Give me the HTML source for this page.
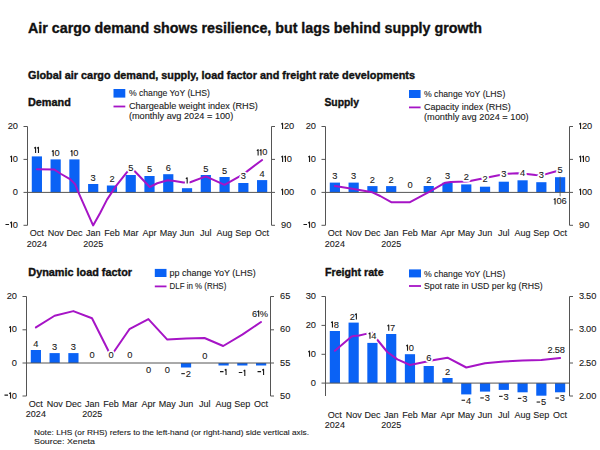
<!DOCTYPE html>
<html><head><meta charset="utf-8">
<style>
html,body{margin:0;padding:0;background:#fff;}
body{width:600px;height:450px;overflow:hidden;}
svg{display:block;font-family:"Liberation Sans", sans-serif;}
</style></head><body>
<svg width="600" height="450" viewBox="0 0 600 450">
<rect width="600" height="450" fill="#fff"/>
<text x="28.00" y="32.70" font-size="14.3" font-weight="bold" textLength="454" lengthAdjust="spacingAndGlyphs" stroke="#111" stroke-width="0.35" stroke-linejoin="round" fill="#111">Air cargo demand shows resilience, but lags behind supply growth</text>
<text x="28.00" y="79.20" font-size="10" font-weight="bold" textLength="387" lengthAdjust="spacingAndGlyphs" stroke="#111" stroke-width="0.35" stroke-linejoin="round" fill="#111">Global air cargo demand, supply, load factor and freight rate developments</text>
<text x="28.00" y="105.80" font-size="10" font-weight="bold" textLength="42.8" lengthAdjust="spacingAndGlyphs" stroke="#111" stroke-width="0.35" stroke-linejoin="round" fill="#111">Demand</text>
<rect x="113.50" y="89.00" width="11.80" height="8.60" fill="#0a62f5"/>
<text x="128.90" y="96.10" font-size="8.5" textLength="81.1" lengthAdjust="spacingAndGlyphs" stroke="#1a1a1a" stroke-width="0.1" stroke-linejoin="round" fill="#1a1a1a">% change YoY (LHS)</text>
<line x1="113.50" y1="106.50" x2="125.30" y2="106.50" stroke="#a614c6" stroke-width="1.8"/>
<text x="128.90" y="109.30" font-size="8.5" textLength="129" lengthAdjust="spacingAndGlyphs" stroke="#1a1a1a" stroke-width="0.1" stroke-linejoin="round" fill="#1a1a1a">Chargeable weight index (RHS)</text>
<text x="128.90" y="119.30" font-size="8.5" textLength="104.4" lengthAdjust="spacingAndGlyphs" stroke="#1a1a1a" stroke-width="0.1" stroke-linejoin="round" fill="#1a1a1a">(monthly avg 2024 = 100)</text>
<line x1="27.50" y1="126.50" x2="27.50" y2="225.30" stroke="#555555" stroke-width="1"/>
<line x1="271.50" y1="126.50" x2="271.50" y2="225.30" stroke="#555555" stroke-width="1"/>
<line x1="23.50" y1="126.50" x2="27.50" y2="126.50" stroke="#555555" stroke-width="1"/>
<text x="7.66 12.83" y="129.00" font-size="9.3" fill="#1a1a1a" stroke="#1a1a1a" stroke-width="0.1">20</text>
<line x1="23.50" y1="159.40" x2="27.50" y2="159.40" stroke="#555555" stroke-width="1"/>
<text x="12.83" y="161.90" font-size="9.3" fill="#1a1a1a" stroke="#1a1a1a" stroke-width="0.1">0</text>
<path d="M10.23,157.16 L11.53,156.13 L11.53,161.90" fill="none" stroke="#1a1a1a" stroke-width="1.10" stroke-linejoin="round"/>
<line x1="23.50" y1="192.40" x2="27.50" y2="192.40" stroke="#555555" stroke-width="1"/>
<text x="12.83" y="194.90" font-size="9.3" fill="#1a1a1a" stroke="#1a1a1a" stroke-width="0.1">0</text>
<line x1="23.50" y1="225.30" x2="27.50" y2="225.30" stroke="#555555" stroke-width="1"/>
<text x="12.83" y="227.80" font-size="9.3" fill="#1a1a1a" stroke="#1a1a1a" stroke-width="0.1">0</text>
<path d="M5.48,224.45 L9.02,224.45 M10.23,223.06 L11.53,222.03 L11.53,227.80" fill="none" stroke="#1a1a1a" stroke-width="1.10" stroke-linejoin="round"/>
<line x1="271.50" y1="126.50" x2="275.00" y2="126.50" stroke="#555555" stroke-width="1"/>
<text x="283.88 289.05" y="129.00" font-size="9.3" fill="#1a1a1a" stroke="#1a1a1a" stroke-width="0.1">20</text>
<path d="M281.28,124.26 L282.58,123.23 L282.58,129.00" fill="none" stroke="#1a1a1a" stroke-width="1.10" stroke-linejoin="round"/>
<line x1="271.50" y1="159.40" x2="275.00" y2="159.40" stroke="#555555" stroke-width="1"/>
<text x="286.77" y="161.90" font-size="9.3" fill="#1a1a1a" stroke="#1a1a1a" stroke-width="0.1">0</text>
<path d="M281.28,157.16 L282.58,156.13 L282.58,161.90 M284.16,157.16 L285.46,156.13 L285.46,161.90" fill="none" stroke="#1a1a1a" stroke-width="1.10" stroke-linejoin="round"/>
<line x1="271.50" y1="192.40" x2="275.00" y2="192.40" stroke="#555555" stroke-width="1"/>
<text x="283.88 289.05" y="194.90" font-size="9.3" fill="#1a1a1a" stroke="#1a1a1a" stroke-width="0.1">00</text>
<path d="M281.28,190.16 L282.58,189.13 L282.58,194.90" fill="none" stroke="#1a1a1a" stroke-width="1.10" stroke-linejoin="round"/>
<line x1="271.50" y1="225.30" x2="275.00" y2="225.30" stroke="#555555" stroke-width="1"/>
<text x="281.00 286.17" y="227.80" font-size="9.3" fill="#1a1a1a" stroke="#1a1a1a" stroke-width="0.1">90</text>
<rect x="31.78" y="156.40" width="10.20" height="36.00" fill="#0a62f5"/>
<rect x="50.55" y="159.40" width="10.20" height="33.00" fill="#0a62f5"/>
<rect x="69.32" y="159.40" width="10.20" height="33.00" fill="#0a62f5"/>
<rect x="88.09" y="184.00" width="10.20" height="8.40" fill="#0a62f5"/>
<rect x="106.86" y="185.50" width="10.20" height="6.90" fill="#0a62f5"/>
<rect x="125.63" y="175.00" width="10.20" height="17.40" fill="#0a62f5"/>
<rect x="144.40" y="176.00" width="10.20" height="16.40" fill="#0a62f5"/>
<rect x="163.17" y="174.20" width="10.20" height="18.20" fill="#0a62f5"/>
<rect x="181.94" y="188.20" width="10.20" height="4.20" fill="#0a62f5"/>
<rect x="200.71" y="175.00" width="10.20" height="17.40" fill="#0a62f5"/>
<rect x="219.48" y="177.00" width="10.20" height="15.40" fill="#0a62f5"/>
<rect x="238.25" y="183.00" width="10.20" height="9.40" fill="#0a62f5"/>
<rect x="257.02" y="180.10" width="10.20" height="12.30" fill="#0a62f5"/>
<line x1="27.50" y1="192.40" x2="271.50" y2="192.40" stroke="#555555" stroke-width="1"/>
<polyline points="36.90,169.30 54.00,169.40 61.10,174.00 70.40,179.40 75.10,184.10 78.20,191.90 93.10,225.40 100.00,213.30 107.00,199.60 116.30,185.60 126.40,172.80 130.70,168.00 134.75,171.25 149.75,187.00 157.25,183.25 167.75,180.25 174.50,181.00 183.50,182.50 190.25,182.20 205.80,176.40 224.50,184.80 239.10,176.60 243.35,174.00 246.70,171.60 262.10,160.00" fill="none" stroke="#a614c6" stroke-width="2.0" stroke-linejoin="round" stroke-linecap="round"/>
<path d="M34.28,148.26 L35.58,147.23 L35.58,153.00 M37.16,148.26 L38.47,147.23 L38.47,153.00" fill="none" stroke="#fff" stroke-width="4.60" stroke-linejoin="round" stroke-linecap="round"/>
<path d="M34.28,148.26 L35.58,147.23 L35.58,153.00 M37.16,148.26 L38.47,147.23 L38.47,153.00" fill="none" stroke="#1a1a1a" stroke-width="1.10" stroke-linejoin="round"/>
<text x="54.51" y="156.30" font-size="9.3" fill="#fff" stroke="#fff" stroke-width="3.5" stroke-linejoin="round">0</text>
<path d="M51.91,151.56 L53.21,150.53 L53.21,156.30" fill="none" stroke="#fff" stroke-width="4.60" stroke-linejoin="round" stroke-linecap="round"/>
<text x="54.51" y="156.30" font-size="9.3" fill="#1a1a1a" stroke="#1a1a1a" stroke-width="0.1">0</text>
<path d="M51.91,151.56 L53.21,150.53 L53.21,156.30" fill="none" stroke="#1a1a1a" stroke-width="1.10" stroke-linejoin="round"/>
<text x="73.28" y="156.30" font-size="9.3" fill="#fff" stroke="#fff" stroke-width="3.5" stroke-linejoin="round">0</text>
<path d="M70.68,151.56 L71.98,150.53 L71.98,156.30" fill="none" stroke="#fff" stroke-width="4.60" stroke-linejoin="round" stroke-linecap="round"/>
<text x="73.28" y="156.30" font-size="9.3" fill="#1a1a1a" stroke="#1a1a1a" stroke-width="0.1">0</text>
<path d="M70.68,151.56 L71.98,150.53 L71.98,156.30" fill="none" stroke="#1a1a1a" stroke-width="1.10" stroke-linejoin="round"/>
<text x="90.61" y="180.50" font-size="9.3" fill="#fff" stroke="#fff" stroke-width="3.5" stroke-linejoin="round">3</text>
<text x="90.61" y="180.50" font-size="9.3" fill="#1a1a1a" stroke="#1a1a1a" stroke-width="0.1">3</text>
<text x="109.38" y="182.00" font-size="9.3" fill="#fff" stroke="#fff" stroke-width="3.5" stroke-linejoin="round">2</text>
<text x="109.38" y="182.00" font-size="9.3" fill="#1a1a1a" stroke="#1a1a1a" stroke-width="0.1">2</text>
<text x="128.15" y="170.50" font-size="9.3" fill="#fff" stroke="#fff" stroke-width="3.5" stroke-linejoin="round">5</text>
<text x="128.15" y="170.50" font-size="9.3" fill="#1a1a1a" stroke="#1a1a1a" stroke-width="0.1">5</text>
<text x="146.91" y="172.20" font-size="9.3" fill="#fff" stroke="#fff" stroke-width="3.5" stroke-linejoin="round">5</text>
<text x="146.91" y="172.20" font-size="9.3" fill="#1a1a1a" stroke="#1a1a1a" stroke-width="0.1">5</text>
<text x="165.68" y="170.80" font-size="9.3" fill="#fff" stroke="#fff" stroke-width="3.5" stroke-linejoin="round">6</text>
<text x="165.68" y="170.80" font-size="9.3" fill="#1a1a1a" stroke="#1a1a1a" stroke-width="0.1">6</text>
<path d="M185.88,178.76 L187.18,177.73 L187.18,183.50" fill="none" stroke="#fff" stroke-width="4.60" stroke-linejoin="round" stroke-linecap="round"/>
<path d="M185.88,178.76 L187.18,177.73 L187.18,183.50" fill="none" stroke="#1a1a1a" stroke-width="1.10" stroke-linejoin="round"/>
<text x="203.22" y="171.70" font-size="9.3" fill="#fff" stroke="#fff" stroke-width="3.5" stroke-linejoin="round">5</text>
<text x="203.22" y="171.70" font-size="9.3" fill="#1a1a1a" stroke="#1a1a1a" stroke-width="0.1">5</text>
<text x="221.99" y="173.70" font-size="9.3" fill="#fff" stroke="#fff" stroke-width="3.5" stroke-linejoin="round">5</text>
<text x="221.99" y="173.70" font-size="9.3" fill="#1a1a1a" stroke="#1a1a1a" stroke-width="0.1">5</text>
<text x="240.76" y="179.00" font-size="9.3" fill="#fff" stroke="#fff" stroke-width="3.5" stroke-linejoin="round">3</text>
<text x="240.76" y="179.00" font-size="9.3" fill="#1a1a1a" stroke="#1a1a1a" stroke-width="0.1">3</text>
<text x="259.53" y="177.00" font-size="9.3" fill="#fff" stroke="#fff" stroke-width="3.5" stroke-linejoin="round">4</text>
<text x="259.53" y="177.00" font-size="9.3" fill="#1a1a1a" stroke="#1a1a1a" stroke-width="0.1">4</text>
<text x="262.30" y="155.40" font-size="9.3" fill="#fff" stroke="#fff" stroke-width="3.5" stroke-linejoin="round">0</text>
<path d="M256.81,150.66 L258.11,149.63 L258.11,155.40 M259.69,150.66 L261.00,149.63 L261.00,155.40" fill="none" stroke="#fff" stroke-width="4.60" stroke-linejoin="round" stroke-linecap="round"/>
<text x="262.30" y="155.40" font-size="9.3" fill="#1a1a1a" stroke="#1a1a1a" stroke-width="0.1">0</text>
<path d="M256.81,150.66 L258.11,149.63 L258.11,155.40 M259.69,150.66 L261.00,149.63 L261.00,155.40" fill="none" stroke="#1a1a1a" stroke-width="1.10" stroke-linejoin="round"/>
<text x="36.88" y="236.30" font-size="9" text-anchor="middle" stroke="#1a1a1a" stroke-width="0.1" stroke-linejoin="round" fill="#1a1a1a">Oct</text>
<text x="55.65" y="236.30" font-size="9" text-anchor="middle" stroke="#1a1a1a" stroke-width="0.1" stroke-linejoin="round" fill="#1a1a1a">Nov</text>
<text x="74.42" y="236.30" font-size="9" text-anchor="middle" stroke="#1a1a1a" stroke-width="0.1" stroke-linejoin="round" fill="#1a1a1a">Dec</text>
<text x="93.19" y="236.30" font-size="9" text-anchor="middle" stroke="#1a1a1a" stroke-width="0.1" stroke-linejoin="round" fill="#1a1a1a">Jan</text>
<text x="111.96" y="236.30" font-size="9" text-anchor="middle" stroke="#1a1a1a" stroke-width="0.1" stroke-linejoin="round" fill="#1a1a1a">Feb</text>
<text x="130.73" y="236.30" font-size="9" text-anchor="middle" stroke="#1a1a1a" stroke-width="0.1" stroke-linejoin="round" fill="#1a1a1a">Mar</text>
<text x="149.50" y="236.30" font-size="9" text-anchor="middle" stroke="#1a1a1a" stroke-width="0.1" stroke-linejoin="round" fill="#1a1a1a">Apr</text>
<text x="168.27" y="236.30" font-size="9" text-anchor="middle" stroke="#1a1a1a" stroke-width="0.1" stroke-linejoin="round" fill="#1a1a1a">May</text>
<text x="187.04" y="236.30" font-size="9" text-anchor="middle" stroke="#1a1a1a" stroke-width="0.1" stroke-linejoin="round" fill="#1a1a1a">Jun</text>
<text x="205.81" y="236.30" font-size="9" text-anchor="middle" stroke="#1a1a1a" stroke-width="0.1" stroke-linejoin="round" fill="#1a1a1a">Jul</text>
<text x="224.58" y="236.30" font-size="9" text-anchor="middle" stroke="#1a1a1a" stroke-width="0.1" stroke-linejoin="round" fill="#1a1a1a">Aug</text>
<text x="243.35" y="236.30" font-size="9" text-anchor="middle" stroke="#1a1a1a" stroke-width="0.1" stroke-linejoin="round" fill="#1a1a1a">Sep</text>
<text x="262.12" y="236.30" font-size="9" text-anchor="middle" stroke="#1a1a1a" stroke-width="0.1" stroke-linejoin="round" fill="#1a1a1a">Oct</text>
<text x="36.88" y="246.80" font-size="9" text-anchor="middle" stroke="#1a1a1a" stroke-width="0.1" stroke-linejoin="round" fill="#1a1a1a">2024</text>
<text x="93.19" y="246.80" font-size="9" text-anchor="middle" stroke="#1a1a1a" stroke-width="0.1" stroke-linejoin="round" fill="#1a1a1a">2025</text>
<text x="324.40" y="106.00" font-size="10" font-weight="bold" textLength="34.6" lengthAdjust="spacingAndGlyphs" stroke="#111" stroke-width="0.35" stroke-linejoin="round" fill="#111">Supply</text>
<rect x="409.00" y="90.00" width="11.60" height="8.00" fill="#0a62f5"/>
<text x="424.00" y="97.00" font-size="8.5" textLength="81.3" lengthAdjust="spacingAndGlyphs" stroke="#1a1a1a" stroke-width="0.1" stroke-linejoin="round" fill="#1a1a1a">% change YoY (LHS)</text>
<line x1="409.00" y1="107.40" x2="420.60" y2="107.40" stroke="#a614c6" stroke-width="1.8"/>
<text x="424.00" y="110.30" font-size="8.5" textLength="86.8" lengthAdjust="spacingAndGlyphs" stroke="#1a1a1a" stroke-width="0.1" stroke-linejoin="round" fill="#1a1a1a">Capacity index (RHS)</text>
<text x="424.00" y="120.30" font-size="8.5" textLength="104.7" lengthAdjust="spacingAndGlyphs" stroke="#1a1a1a" stroke-width="0.1" stroke-linejoin="round" fill="#1a1a1a">(monthly avg 2024 = 100)</text>
<line x1="325.50" y1="126.50" x2="325.50" y2="225.30" stroke="#555555" stroke-width="1"/>
<line x1="569.50" y1="126.50" x2="569.50" y2="225.30" stroke="#555555" stroke-width="1"/>
<line x1="321.50" y1="126.50" x2="325.50" y2="126.50" stroke="#555555" stroke-width="1"/>
<text x="305.66 310.83" y="129.00" font-size="9.3" fill="#1a1a1a" stroke="#1a1a1a" stroke-width="0.1">20</text>
<line x1="321.50" y1="159.40" x2="325.50" y2="159.40" stroke="#555555" stroke-width="1"/>
<text x="310.83" y="161.90" font-size="9.3" fill="#1a1a1a" stroke="#1a1a1a" stroke-width="0.1">0</text>
<path d="M308.23,157.16 L309.53,156.13 L309.53,161.90" fill="none" stroke="#1a1a1a" stroke-width="1.10" stroke-linejoin="round"/>
<line x1="321.50" y1="192.40" x2="325.50" y2="192.40" stroke="#555555" stroke-width="1"/>
<text x="310.83" y="194.90" font-size="9.3" fill="#1a1a1a" stroke="#1a1a1a" stroke-width="0.1">0</text>
<line x1="321.50" y1="225.30" x2="325.50" y2="225.30" stroke="#555555" stroke-width="1"/>
<text x="310.83" y="227.80" font-size="9.3" fill="#1a1a1a" stroke="#1a1a1a" stroke-width="0.1">0</text>
<path d="M303.48,224.45 L307.02,224.45 M308.23,223.06 L309.53,222.03 L309.53,227.80" fill="none" stroke="#1a1a1a" stroke-width="1.10" stroke-linejoin="round"/>
<line x1="569.50" y1="126.50" x2="573.00" y2="126.50" stroke="#555555" stroke-width="1"/>
<text x="581.88 587.05" y="129.00" font-size="9.3" fill="#1a1a1a" stroke="#1a1a1a" stroke-width="0.1">20</text>
<path d="M579.28,124.26 L580.58,123.23 L580.58,129.00" fill="none" stroke="#1a1a1a" stroke-width="1.10" stroke-linejoin="round"/>
<line x1="569.50" y1="159.40" x2="573.00" y2="159.40" stroke="#555555" stroke-width="1"/>
<text x="584.77" y="161.90" font-size="9.3" fill="#1a1a1a" stroke="#1a1a1a" stroke-width="0.1">0</text>
<path d="M579.28,157.16 L580.58,156.13 L580.58,161.90 M582.16,157.16 L583.46,156.13 L583.46,161.90" fill="none" stroke="#1a1a1a" stroke-width="1.10" stroke-linejoin="round"/>
<line x1="569.50" y1="192.40" x2="573.00" y2="192.40" stroke="#555555" stroke-width="1"/>
<text x="581.88 587.05" y="194.90" font-size="9.3" fill="#1a1a1a" stroke="#1a1a1a" stroke-width="0.1">00</text>
<path d="M579.28,190.16 L580.58,189.13 L580.58,194.90" fill="none" stroke="#1a1a1a" stroke-width="1.10" stroke-linejoin="round"/>
<line x1="569.50" y1="225.30" x2="573.00" y2="225.30" stroke="#555555" stroke-width="1"/>
<text x="579.00 584.17" y="227.80" font-size="9.3" fill="#1a1a1a" stroke="#1a1a1a" stroke-width="0.1">90</text>
<rect x="329.78" y="182.60" width="10.20" height="9.80" fill="#0a62f5"/>
<rect x="348.55" y="182.60" width="10.20" height="9.80" fill="#0a62f5"/>
<rect x="367.32" y="186.10" width="10.20" height="6.30" fill="#0a62f5"/>
<rect x="386.09" y="186.10" width="10.20" height="6.30" fill="#0a62f5"/>
<rect x="423.63" y="186.00" width="10.20" height="6.40" fill="#0a62f5"/>
<rect x="442.40" y="182.70" width="10.20" height="9.70" fill="#0a62f5"/>
<rect x="461.17" y="184.40" width="10.20" height="8.00" fill="#0a62f5"/>
<rect x="479.94" y="186.70" width="10.20" height="5.70" fill="#0a62f5"/>
<rect x="498.71" y="181.70" width="10.20" height="10.70" fill="#0a62f5"/>
<rect x="517.48" y="180.30" width="10.20" height="12.10" fill="#0a62f5"/>
<rect x="536.25" y="182.20" width="10.20" height="10.20" fill="#0a62f5"/>
<rect x="555.02" y="177.20" width="10.20" height="15.20" fill="#0a62f5"/>
<line x1="325.50" y1="192.40" x2="569.50" y2="192.40" stroke="#555555" stroke-width="1"/>
<polyline points="334.90,186.10 353.70,189.00 372.40,192.30 380.20,196.00 391.20,202.20 410.00,202.20 428.70,192.20 445.30,182.70 450.70,182.00 466.30,181.50 470.00,181.10 480.00,179.10 488.70,177.30 498.70,175.30 503.80,174.50 508.00,173.70 517.30,173.30 522.50,173.90 526.70,173.90 535.60,175.00 541.30,175.20 545.00,174.40 554.40,171.70 560.10,170.30" fill="none" stroke="#a614c6" stroke-width="2.0" stroke-linejoin="round" stroke-linecap="round"/>
<text x="332.30" y="179.00" font-size="9.3" fill="#fff" stroke="#fff" stroke-width="3.5" stroke-linejoin="round">3</text>
<text x="332.30" y="179.00" font-size="9.3" fill="#1a1a1a" stroke="#1a1a1a" stroke-width="0.1">3</text>
<text x="351.07" y="179.00" font-size="9.3" fill="#fff" stroke="#fff" stroke-width="3.5" stroke-linejoin="round">3</text>
<text x="351.07" y="179.00" font-size="9.3" fill="#1a1a1a" stroke="#1a1a1a" stroke-width="0.1">3</text>
<text x="369.84" y="182.75" font-size="9.3" fill="#fff" stroke="#fff" stroke-width="3.5" stroke-linejoin="round">2</text>
<text x="369.84" y="182.75" font-size="9.3" fill="#1a1a1a" stroke="#1a1a1a" stroke-width="0.1">2</text>
<text x="388.61" y="182.75" font-size="9.3" fill="#fff" stroke="#fff" stroke-width="3.5" stroke-linejoin="round">2</text>
<text x="388.61" y="182.75" font-size="9.3" fill="#1a1a1a" stroke="#1a1a1a" stroke-width="0.1">2</text>
<text x="407.38" y="188.00" font-size="9.3" fill="#fff" stroke="#fff" stroke-width="3.5" stroke-linejoin="round">0</text>
<text x="407.38" y="188.00" font-size="9.3" fill="#1a1a1a" stroke="#1a1a1a" stroke-width="0.1">0</text>
<text x="426.15" y="182.70" font-size="9.3" fill="#fff" stroke="#fff" stroke-width="3.5" stroke-linejoin="round">2</text>
<text x="426.15" y="182.70" font-size="9.3" fill="#1a1a1a" stroke="#1a1a1a" stroke-width="0.1">2</text>
<text x="444.91" y="178.70" font-size="9.3" fill="#fff" stroke="#fff" stroke-width="3.5" stroke-linejoin="round">3</text>
<text x="444.91" y="178.70" font-size="9.3" fill="#1a1a1a" stroke="#1a1a1a" stroke-width="0.1">3</text>
<text x="463.68" y="179.70" font-size="9.3" fill="#fff" stroke="#fff" stroke-width="3.5" stroke-linejoin="round">2</text>
<text x="463.68" y="179.70" font-size="9.3" fill="#1a1a1a" stroke="#1a1a1a" stroke-width="0.1">2</text>
<text x="482.45" y="182.00" font-size="9.3" fill="#fff" stroke="#fff" stroke-width="3.5" stroke-linejoin="round">2</text>
<text x="482.45" y="182.00" font-size="9.3" fill="#1a1a1a" stroke="#1a1a1a" stroke-width="0.1">2</text>
<text x="501.22" y="177.30" font-size="9.3" fill="#fff" stroke="#fff" stroke-width="3.5" stroke-linejoin="round">3</text>
<text x="501.22" y="177.30" font-size="9.3" fill="#1a1a1a" stroke="#1a1a1a" stroke-width="0.1">3</text>
<text x="519.99" y="175.80" font-size="9.3" fill="#fff" stroke="#fff" stroke-width="3.5" stroke-linejoin="round">4</text>
<text x="519.99" y="175.80" font-size="9.3" fill="#1a1a1a" stroke="#1a1a1a" stroke-width="0.1">4</text>
<text x="538.76" y="178.00" font-size="9.3" fill="#fff" stroke="#fff" stroke-width="3.5" stroke-linejoin="round">3</text>
<text x="538.76" y="178.00" font-size="9.3" fill="#1a1a1a" stroke="#1a1a1a" stroke-width="0.1">3</text>
<text x="557.53" y="172.80" font-size="9.3" fill="#fff" stroke="#fff" stroke-width="3.5" stroke-linejoin="round">5</text>
<text x="557.53" y="172.80" font-size="9.3" fill="#1a1a1a" stroke="#1a1a1a" stroke-width="0.1">5</text>
<text x="334.88" y="236.00" font-size="9" text-anchor="middle" stroke="#1a1a1a" stroke-width="0.1" stroke-linejoin="round" fill="#1a1a1a">Oct</text>
<text x="353.65" y="236.00" font-size="9" text-anchor="middle" stroke="#1a1a1a" stroke-width="0.1" stroke-linejoin="round" fill="#1a1a1a">Nov</text>
<text x="372.42" y="236.00" font-size="9" text-anchor="middle" stroke="#1a1a1a" stroke-width="0.1" stroke-linejoin="round" fill="#1a1a1a">Dec</text>
<text x="391.19" y="236.00" font-size="9" text-anchor="middle" stroke="#1a1a1a" stroke-width="0.1" stroke-linejoin="round" fill="#1a1a1a">Jan</text>
<text x="409.96" y="236.00" font-size="9" text-anchor="middle" stroke="#1a1a1a" stroke-width="0.1" stroke-linejoin="round" fill="#1a1a1a">Feb</text>
<text x="428.73" y="236.00" font-size="9" text-anchor="middle" stroke="#1a1a1a" stroke-width="0.1" stroke-linejoin="round" fill="#1a1a1a">Mar</text>
<text x="447.50" y="236.00" font-size="9" text-anchor="middle" stroke="#1a1a1a" stroke-width="0.1" stroke-linejoin="round" fill="#1a1a1a">Apr</text>
<text x="466.27" y="236.00" font-size="9" text-anchor="middle" stroke="#1a1a1a" stroke-width="0.1" stroke-linejoin="round" fill="#1a1a1a">May</text>
<text x="485.04" y="236.00" font-size="9" text-anchor="middle" stroke="#1a1a1a" stroke-width="0.1" stroke-linejoin="round" fill="#1a1a1a">Jun</text>
<text x="503.81" y="236.00" font-size="9" text-anchor="middle" stroke="#1a1a1a" stroke-width="0.1" stroke-linejoin="round" fill="#1a1a1a">Jul</text>
<text x="522.58" y="236.00" font-size="9" text-anchor="middle" stroke="#1a1a1a" stroke-width="0.1" stroke-linejoin="round" fill="#1a1a1a">Aug</text>
<text x="541.35" y="236.00" font-size="9" text-anchor="middle" stroke="#1a1a1a" stroke-width="0.1" stroke-linejoin="round" fill="#1a1a1a">Sep</text>
<text x="560.12" y="236.00" font-size="9" text-anchor="middle" stroke="#1a1a1a" stroke-width="0.1" stroke-linejoin="round" fill="#1a1a1a">Oct</text>
<text x="334.88" y="246.50" font-size="9" text-anchor="middle" stroke="#1a1a1a" stroke-width="0.1" stroke-linejoin="round" fill="#1a1a1a">2024</text>
<text x="391.19" y="246.50" font-size="9" text-anchor="middle" stroke="#1a1a1a" stroke-width="0.1" stroke-linejoin="round" fill="#1a1a1a">2025</text>
<line x1="560.12" y1="176.70" x2="560.12" y2="196.70" stroke="#555" stroke-width="0.8"/>
<text x="556.39 561.56" y="204.40" font-size="9.3" fill="#fff" stroke="#fff" stroke-width="3.5" stroke-linejoin="round">06</text>
<path d="M553.78,199.66 L555.08,198.63 L555.08,204.40" fill="none" stroke="#fff" stroke-width="4.60" stroke-linejoin="round" stroke-linecap="round"/>
<text x="556.39 561.56" y="204.40" font-size="9.3" fill="#1a1a1a" stroke="#1a1a1a" stroke-width="0.1">06</text>
<path d="M553.78,199.66 L555.08,198.63 L555.08,204.40" fill="none" stroke="#1a1a1a" stroke-width="1.10" stroke-linejoin="round"/>
<text x="28.30" y="276.30" font-size="10" font-weight="bold" textLength="103.7" lengthAdjust="spacingAndGlyphs" stroke="#111" stroke-width="0.35" stroke-linejoin="round" fill="#111">Dynamic load factor</text>
<rect x="154.80" y="268.90" width="11.70" height="8.10" fill="#0a62f5"/>
<text x="169.50" y="275.80" font-size="8.5" textLength="86.3" lengthAdjust="spacingAndGlyphs" stroke="#1a1a1a" stroke-width="0.1" stroke-linejoin="round" fill="#1a1a1a">pp change YoY (LHS)</text>
<line x1="154.80" y1="286.40" x2="166.50" y2="286.40" stroke="#a614c6" stroke-width="1.8"/>
<text x="169.50" y="289.20" font-size="8.5" textLength="56.8" lengthAdjust="spacingAndGlyphs" stroke="#1a1a1a" stroke-width="0.1" stroke-linejoin="round" fill="#1a1a1a">DLF in % (RHS)</text>
<line x1="26.50" y1="296.50" x2="26.50" y2="396.00" stroke="#555555" stroke-width="1"/>
<line x1="270.50" y1="296.50" x2="270.50" y2="396.00" stroke="#555555" stroke-width="1"/>
<line x1="22.50" y1="296.50" x2="26.50" y2="296.50" stroke="#555555" stroke-width="1"/>
<text x="6.66 11.83" y="299.00" font-size="9.3" fill="#1a1a1a" stroke="#1a1a1a" stroke-width="0.1">20</text>
<line x1="22.50" y1="329.80" x2="26.50" y2="329.80" stroke="#555555" stroke-width="1"/>
<text x="11.83" y="332.30" font-size="9.3" fill="#1a1a1a" stroke="#1a1a1a" stroke-width="0.1">0</text>
<path d="M9.23,327.56 L10.53,326.53 L10.53,332.30" fill="none" stroke="#1a1a1a" stroke-width="1.10" stroke-linejoin="round"/>
<line x1="22.50" y1="363.00" x2="26.50" y2="363.00" stroke="#555555" stroke-width="1"/>
<text x="11.83" y="365.50" font-size="9.3" fill="#1a1a1a" stroke="#1a1a1a" stroke-width="0.1">0</text>
<line x1="22.50" y1="396.00" x2="26.50" y2="396.00" stroke="#555555" stroke-width="1"/>
<text x="11.83" y="398.50" font-size="9.3" fill="#1a1a1a" stroke="#1a1a1a" stroke-width="0.1">0</text>
<path d="M4.48,395.15 L8.02,395.15 M9.23,393.76 L10.53,392.73 L10.53,398.50" fill="none" stroke="#1a1a1a" stroke-width="1.10" stroke-linejoin="round"/>
<line x1="270.50" y1="296.50" x2="274.00" y2="296.50" stroke="#555555" stroke-width="1"/>
<text x="280.00 285.17" y="299.00" font-size="9.3" fill="#1a1a1a" stroke="#1a1a1a" stroke-width="0.1">65</text>
<line x1="270.50" y1="329.80" x2="274.00" y2="329.80" stroke="#555555" stroke-width="1"/>
<text x="280.00 285.17" y="332.30" font-size="9.3" fill="#1a1a1a" stroke="#1a1a1a" stroke-width="0.1">60</text>
<line x1="270.50" y1="363.00" x2="274.00" y2="363.00" stroke="#555555" stroke-width="1"/>
<text x="280.00 285.17" y="365.50" font-size="9.3" fill="#1a1a1a" stroke="#1a1a1a" stroke-width="0.1">55</text>
<line x1="270.50" y1="396.00" x2="274.00" y2="396.00" stroke="#555555" stroke-width="1"/>
<text x="280.00 285.17" y="398.50" font-size="9.3" fill="#1a1a1a" stroke="#1a1a1a" stroke-width="0.1">50</text>
<rect x="30.78" y="350.00" width="10.20" height="13.00" fill="#0a62f5"/>
<rect x="49.55" y="353.10" width="10.20" height="9.90" fill="#0a62f5"/>
<rect x="68.32" y="353.10" width="10.20" height="9.90" fill="#0a62f5"/>
<rect x="180.94" y="363.00" width="10.20" height="4.50" fill="#0a62f5"/>
<rect x="218.48" y="363.00" width="10.20" height="2.50" fill="#0a62f5"/>
<rect x="237.25" y="363.00" width="10.20" height="2.50" fill="#0a62f5"/>
<rect x="256.02" y="363.00" width="10.20" height="2.50" fill="#0a62f5"/>
<line x1="26.50" y1="363.00" x2="270.50" y2="363.00" stroke="#555555" stroke-width="1"/>
<polyline points="35.90,327.40 54.60,315.75 73.30,311.10 92.00,318.30 111.00,356.00 129.40,329.20 148.40,319.10 167.30,339.60 186.00,338.50 204.50,338.00 223.20,346.00 242.30,334.70 261.00,322.00" fill="none" stroke="#a614c6" stroke-width="2.0" stroke-linejoin="round" stroke-linecap="round"/>
<text x="33.30" y="346.70" font-size="9.3" fill="#fff" stroke="#fff" stroke-width="3.5" stroke-linejoin="round">4</text>
<text x="33.30" y="346.70" font-size="9.3" fill="#1a1a1a" stroke="#1a1a1a" stroke-width="0.1">4</text>
<text x="52.07" y="349.80" font-size="9.3" fill="#fff" stroke="#fff" stroke-width="3.5" stroke-linejoin="round">3</text>
<text x="52.07" y="349.80" font-size="9.3" fill="#1a1a1a" stroke="#1a1a1a" stroke-width="0.1">3</text>
<text x="70.84" y="349.80" font-size="9.3" fill="#fff" stroke="#fff" stroke-width="3.5" stroke-linejoin="round">3</text>
<text x="70.84" y="349.80" font-size="9.3" fill="#1a1a1a" stroke="#1a1a1a" stroke-width="0.1">3</text>
<text x="89.61" y="358.40" font-size="9.3" fill="#fff" stroke="#fff" stroke-width="3.5" stroke-linejoin="round">0</text>
<text x="89.61" y="358.40" font-size="9.3" fill="#1a1a1a" stroke="#1a1a1a" stroke-width="0.1">0</text>
<text x="108.38" y="358.40" font-size="9.3" fill="#fff" stroke="#fff" stroke-width="3.5" stroke-linejoin="round">0</text>
<text x="108.38" y="358.40" font-size="9.3" fill="#1a1a1a" stroke="#1a1a1a" stroke-width="0.1">0</text>
<text x="127.15" y="358.40" font-size="9.3" fill="#fff" stroke="#fff" stroke-width="3.5" stroke-linejoin="round">0</text>
<text x="127.15" y="358.40" font-size="9.3" fill="#1a1a1a" stroke="#1a1a1a" stroke-width="0.1">0</text>
<text x="145.91" y="373.00" font-size="9.3" fill="#fff" stroke="#fff" stroke-width="3.5" stroke-linejoin="round">0</text>
<text x="145.91" y="373.00" font-size="9.3" fill="#1a1a1a" stroke="#1a1a1a" stroke-width="0.1">0</text>
<text x="164.68" y="373.00" font-size="9.3" fill="#fff" stroke="#fff" stroke-width="3.5" stroke-linejoin="round">0</text>
<text x="164.68" y="373.00" font-size="9.3" fill="#1a1a1a" stroke="#1a1a1a" stroke-width="0.1">0</text>
<text x="185.78" y="377.00" font-size="9.3" fill="#fff" stroke="#fff" stroke-width="3.5" stroke-linejoin="round">2</text>
<path d="M181.31,373.65 L184.85,373.65" fill="none" stroke="#fff" stroke-width="4.60" stroke-linejoin="round" stroke-linecap="round"/>
<text x="185.78" y="377.00" font-size="9.3" fill="#1a1a1a" stroke="#1a1a1a" stroke-width="0.1">2</text>
<path d="M181.31,373.65 L184.85,373.65" fill="none" stroke="#1a1a1a" stroke-width="1.10" stroke-linejoin="round"/>
<text x="202.22" y="359.00" font-size="9.3" fill="#fff" stroke="#fff" stroke-width="3.5" stroke-linejoin="round">0</text>
<text x="202.22" y="359.00" font-size="9.3" fill="#1a1a1a" stroke="#1a1a1a" stroke-width="0.1">0</text>
<path d="M220.00,371.65 L223.53,371.65 M224.74,370.26 L226.04,369.23 L226.04,375.00" fill="none" stroke="#fff" stroke-width="4.60" stroke-linejoin="round" stroke-linecap="round"/>
<path d="M220.00,371.65 L223.53,371.65 M224.74,370.26 L226.04,369.23 L226.04,375.00" fill="none" stroke="#1a1a1a" stroke-width="1.10" stroke-linejoin="round"/>
<path d="M238.77,372.55 L242.30,372.55 M243.51,371.16 L244.81,370.13 L244.81,375.90" fill="none" stroke="#fff" stroke-width="4.60" stroke-linejoin="round" stroke-linecap="round"/>
<path d="M238.77,372.55 L242.30,372.55 M243.51,371.16 L244.81,370.13 L244.81,375.90" fill="none" stroke="#1a1a1a" stroke-width="1.10" stroke-linejoin="round"/>
<path d="M257.53,371.65 L261.07,371.65 M262.28,370.26 L263.58,369.23 L263.58,375.00" fill="none" stroke="#fff" stroke-width="4.60" stroke-linejoin="round" stroke-linecap="round"/>
<path d="M257.53,371.65 L261.07,371.65 M262.28,370.26 L263.58,369.23 L263.58,375.00" fill="none" stroke="#1a1a1a" stroke-width="1.10" stroke-linejoin="round"/>
<text x="251.95 259.63" y="316.70" font-size="9.3" fill="#fff" stroke="#fff" stroke-width="3.5" stroke-linejoin="round">6%</text>
<path d="M257.40,311.96 L258.70,310.93 L258.70,316.70" fill="none" stroke="#fff" stroke-width="4.60" stroke-linejoin="round" stroke-linecap="round"/>
<text x="251.95 259.63" y="316.70" font-size="9.3" fill="#1a1a1a" stroke="#1a1a1a" stroke-width="0.1">6%</text>
<path d="M257.40,311.96 L258.70,310.93 L258.70,316.70" fill="none" stroke="#1a1a1a" stroke-width="1.10" stroke-linejoin="round"/>
<text x="35.88" y="406.50" font-size="9" text-anchor="middle" stroke="#1a1a1a" stroke-width="0.1" stroke-linejoin="round" fill="#1a1a1a">Oct</text>
<text x="54.65" y="406.50" font-size="9" text-anchor="middle" stroke="#1a1a1a" stroke-width="0.1" stroke-linejoin="round" fill="#1a1a1a">Nov</text>
<text x="73.42" y="406.50" font-size="9" text-anchor="middle" stroke="#1a1a1a" stroke-width="0.1" stroke-linejoin="round" fill="#1a1a1a">Dec</text>
<text x="92.19" y="406.50" font-size="9" text-anchor="middle" stroke="#1a1a1a" stroke-width="0.1" stroke-linejoin="round" fill="#1a1a1a">Jan</text>
<text x="110.96" y="406.50" font-size="9" text-anchor="middle" stroke="#1a1a1a" stroke-width="0.1" stroke-linejoin="round" fill="#1a1a1a">Feb</text>
<text x="129.73" y="406.50" font-size="9" text-anchor="middle" stroke="#1a1a1a" stroke-width="0.1" stroke-linejoin="round" fill="#1a1a1a">Mar</text>
<text x="148.50" y="406.50" font-size="9" text-anchor="middle" stroke="#1a1a1a" stroke-width="0.1" stroke-linejoin="round" fill="#1a1a1a">Apr</text>
<text x="167.27" y="406.50" font-size="9" text-anchor="middle" stroke="#1a1a1a" stroke-width="0.1" stroke-linejoin="round" fill="#1a1a1a">May</text>
<text x="186.04" y="406.50" font-size="9" text-anchor="middle" stroke="#1a1a1a" stroke-width="0.1" stroke-linejoin="round" fill="#1a1a1a">Jun</text>
<text x="204.81" y="406.50" font-size="9" text-anchor="middle" stroke="#1a1a1a" stroke-width="0.1" stroke-linejoin="round" fill="#1a1a1a">Jul</text>
<text x="223.58" y="406.50" font-size="9" text-anchor="middle" stroke="#1a1a1a" stroke-width="0.1" stroke-linejoin="round" fill="#1a1a1a">Aug</text>
<text x="242.35" y="406.50" font-size="9" text-anchor="middle" stroke="#1a1a1a" stroke-width="0.1" stroke-linejoin="round" fill="#1a1a1a">Sep</text>
<text x="261.12" y="406.50" font-size="9" text-anchor="middle" stroke="#1a1a1a" stroke-width="0.1" stroke-linejoin="round" fill="#1a1a1a">Oct</text>
<text x="35.88" y="417.00" font-size="9" text-anchor="middle" stroke="#1a1a1a" stroke-width="0.1" stroke-linejoin="round" fill="#1a1a1a">2024</text>
<text x="92.19" y="417.00" font-size="9" text-anchor="middle" stroke="#1a1a1a" stroke-width="0.1" stroke-linejoin="round" fill="#1a1a1a">2025</text>
<text x="325.00" y="276.40" font-size="10" font-weight="bold" textLength="58.6" lengthAdjust="spacingAndGlyphs" stroke="#111" stroke-width="0.35" stroke-linejoin="round" fill="#111">Freight rate</text>
<rect x="409.00" y="269.40" width="12.00" height="8.00" fill="#0a62f5"/>
<text x="424.00" y="276.70" font-size="8.5" textLength="81.3" lengthAdjust="spacingAndGlyphs" stroke="#1a1a1a" stroke-width="0.1" stroke-linejoin="round" fill="#1a1a1a">% change YoY (LHS)</text>
<line x1="409.00" y1="286.00" x2="421.00" y2="286.00" stroke="#a614c6" stroke-width="1.8"/>
<text x="424.00" y="289.00" font-size="8.5" textLength="118.7" lengthAdjust="spacingAndGlyphs" stroke="#1a1a1a" stroke-width="0.1" stroke-linejoin="round" fill="#1a1a1a">Spot rate in USD per kg (RHS)</text>
<line x1="325.50" y1="296.50" x2="325.50" y2="396.00" stroke="#555555" stroke-width="1"/>
<line x1="569.50" y1="296.50" x2="569.50" y2="396.00" stroke="#555555" stroke-width="1"/>
<line x1="321.50" y1="296.50" x2="325.50" y2="296.50" stroke="#555555" stroke-width="1"/>
<text x="305.66 310.83" y="299.00" font-size="9.3" fill="#1a1a1a" stroke="#1a1a1a" stroke-width="0.1">30</text>
<line x1="321.50" y1="325.40" x2="325.50" y2="325.40" stroke="#555555" stroke-width="1"/>
<text x="305.66 310.83" y="327.90" font-size="9.3" fill="#1a1a1a" stroke="#1a1a1a" stroke-width="0.1">20</text>
<line x1="321.50" y1="354.30" x2="325.50" y2="354.30" stroke="#555555" stroke-width="1"/>
<text x="310.83" y="356.80" font-size="9.3" fill="#1a1a1a" stroke="#1a1a1a" stroke-width="0.1">0</text>
<path d="M308.23,352.06 L309.53,351.03 L309.53,356.80" fill="none" stroke="#1a1a1a" stroke-width="1.10" stroke-linejoin="round"/>
<line x1="321.50" y1="383.10" x2="325.50" y2="383.10" stroke="#555555" stroke-width="1"/>
<text x="310.83" y="385.60" font-size="9.3" fill="#1a1a1a" stroke="#1a1a1a" stroke-width="0.1">0</text>
<line x1="569.50" y1="296.50" x2="573.00" y2="296.50" stroke="#555555" stroke-width="1"/>
<text x="579.00 583.80 586.03 591.20" y="299.00" font-size="9.3" fill="#1a1a1a" stroke="#1a1a1a" stroke-width="0.1">3.50</text>
<line x1="569.50" y1="329.80" x2="573.00" y2="329.80" stroke="#555555" stroke-width="1"/>
<text x="579.00 583.80 586.03 591.20" y="332.30" font-size="9.3" fill="#1a1a1a" stroke="#1a1a1a" stroke-width="0.1">3.00</text>
<line x1="569.50" y1="363.00" x2="573.00" y2="363.00" stroke="#555555" stroke-width="1"/>
<text x="579.00 583.80 586.03 591.20" y="365.50" font-size="9.3" fill="#1a1a1a" stroke="#1a1a1a" stroke-width="0.1">2.50</text>
<line x1="569.50" y1="396.00" x2="573.00" y2="396.00" stroke="#555555" stroke-width="1"/>
<text x="579.00 583.80 586.03 591.20" y="398.50" font-size="9.3" fill="#1a1a1a" stroke="#1a1a1a" stroke-width="0.1">2.00</text>
<rect x="329.78" y="331.00" width="10.20" height="52.10" fill="#0a62f5"/>
<rect x="348.55" y="322.60" width="10.20" height="60.50" fill="#0a62f5"/>
<rect x="367.32" y="342.90" width="10.20" height="40.20" fill="#0a62f5"/>
<rect x="386.09" y="334.00" width="10.20" height="49.10" fill="#0a62f5"/>
<rect x="404.86" y="354.20" width="10.20" height="28.90" fill="#0a62f5"/>
<rect x="423.63" y="366.00" width="10.20" height="17.10" fill="#0a62f5"/>
<rect x="442.40" y="378.00" width="10.20" height="5.10" fill="#0a62f5"/>
<rect x="461.17" y="383.10" width="10.20" height="11.30" fill="#0a62f5"/>
<rect x="479.94" y="383.10" width="10.20" height="8.50" fill="#0a62f5"/>
<rect x="498.71" y="383.10" width="10.20" height="6.80" fill="#0a62f5"/>
<rect x="517.48" y="383.10" width="10.20" height="9.20" fill="#0a62f5"/>
<rect x="536.25" y="383.10" width="10.20" height="12.60" fill="#0a62f5"/>
<rect x="555.02" y="383.10" width="10.20" height="9.20" fill="#0a62f5"/>
<line x1="325.50" y1="383.10" x2="569.50" y2="383.10" stroke="#555555" stroke-width="1"/>
<polyline points="334.90,350.80 351.30,336.70 353.70,335.90 359.10,335.50 366.10,333.90 372.40,332.80 377.50,340.00 387.30,352.00 397.40,359.40 410.00,365.00 423.30,362.30 432.70,360.30 447.50,357.70 466.30,367.50 485.00,363.20 503.80,361.50 522.50,360.60 541.30,359.90 560.10,358.00" fill="none" stroke="#a614c6" stroke-width="2.0" stroke-linejoin="round" stroke-linecap="round"/>
<text x="333.74" y="327.50" font-size="9.3" fill="#fff" stroke="#fff" stroke-width="3.5" stroke-linejoin="round">8</text>
<path d="M331.14,322.76 L332.44,321.73 L332.44,327.50" fill="none" stroke="#fff" stroke-width="4.60" stroke-linejoin="round" stroke-linecap="round"/>
<text x="333.74" y="327.50" font-size="9.3" fill="#1a1a1a" stroke="#1a1a1a" stroke-width="0.1">8</text>
<path d="M331.14,322.76 L332.44,321.73 L332.44,327.50" fill="none" stroke="#1a1a1a" stroke-width="1.10" stroke-linejoin="round"/>
<text x="349.63" y="319.50" font-size="9.3" fill="#fff" stroke="#fff" stroke-width="3.5" stroke-linejoin="round">2</text>
<path d="M355.08,314.76 L356.38,313.73 L356.38,319.50" fill="none" stroke="#fff" stroke-width="4.60" stroke-linejoin="round" stroke-linecap="round"/>
<text x="349.63" y="319.50" font-size="9.3" fill="#1a1a1a" stroke="#1a1a1a" stroke-width="0.1">2</text>
<path d="M355.08,314.76 L356.38,313.73 L356.38,319.50" fill="none" stroke="#1a1a1a" stroke-width="1.10" stroke-linejoin="round"/>
<text x="371.28" y="338.70" font-size="9.3" fill="#fff" stroke="#fff" stroke-width="3.5" stroke-linejoin="round">4</text>
<path d="M368.68,333.96 L369.98,332.93 L369.98,338.70" fill="none" stroke="#fff" stroke-width="4.60" stroke-linejoin="round" stroke-linecap="round"/>
<text x="371.28" y="338.70" font-size="9.3" fill="#1a1a1a" stroke="#1a1a1a" stroke-width="0.1">4</text>
<path d="M368.68,333.96 L369.98,332.93 L369.98,338.70" fill="none" stroke="#1a1a1a" stroke-width="1.10" stroke-linejoin="round"/>
<text x="390.05" y="330.80" font-size="9.3" fill="#fff" stroke="#fff" stroke-width="3.5" stroke-linejoin="round">7</text>
<path d="M387.44,326.06 L388.75,325.03 L388.75,330.80" fill="none" stroke="#fff" stroke-width="4.60" stroke-linejoin="round" stroke-linecap="round"/>
<text x="390.05" y="330.80" font-size="9.3" fill="#1a1a1a" stroke="#1a1a1a" stroke-width="0.1">7</text>
<path d="M387.44,326.06 L388.75,325.03 L388.75,330.80" fill="none" stroke="#1a1a1a" stroke-width="1.10" stroke-linejoin="round"/>
<text x="408.82" y="350.80" font-size="9.3" fill="#fff" stroke="#fff" stroke-width="3.5" stroke-linejoin="round">0</text>
<path d="M406.21,346.06 L407.52,345.03 L407.52,350.80" fill="none" stroke="#fff" stroke-width="4.60" stroke-linejoin="round" stroke-linecap="round"/>
<text x="408.82" y="350.80" font-size="9.3" fill="#1a1a1a" stroke="#1a1a1a" stroke-width="0.1">0</text>
<path d="M406.21,346.06 L407.52,345.03 L407.52,350.80" fill="none" stroke="#1a1a1a" stroke-width="1.10" stroke-linejoin="round"/>
<text x="426.15" y="361.30" font-size="9.3" fill="#fff" stroke="#fff" stroke-width="3.5" stroke-linejoin="round">6</text>
<text x="426.15" y="361.30" font-size="9.3" fill="#1a1a1a" stroke="#1a1a1a" stroke-width="0.1">6</text>
<text x="444.91" y="374.70" font-size="9.3" fill="#fff" stroke="#fff" stroke-width="3.5" stroke-linejoin="round">2</text>
<text x="444.91" y="374.70" font-size="9.3" fill="#1a1a1a" stroke="#1a1a1a" stroke-width="0.1">2</text>
<text x="466.01" y="403.60" font-size="9.3" fill="#fff" stroke="#fff" stroke-width="3.5" stroke-linejoin="round">4</text>
<path d="M461.54,400.25 L465.08,400.25" fill="none" stroke="#fff" stroke-width="4.60" stroke-linejoin="round" stroke-linecap="round"/>
<text x="466.01" y="403.60" font-size="9.3" fill="#1a1a1a" stroke="#1a1a1a" stroke-width="0.1">4</text>
<path d="M461.54,400.25 L465.08,400.25" fill="none" stroke="#1a1a1a" stroke-width="1.10" stroke-linejoin="round"/>
<text x="484.78" y="401.30" font-size="9.3" fill="#fff" stroke="#fff" stroke-width="3.5" stroke-linejoin="round">3</text>
<path d="M480.31,397.95 L483.85,397.95" fill="none" stroke="#fff" stroke-width="4.60" stroke-linejoin="round" stroke-linecap="round"/>
<text x="484.78" y="401.30" font-size="9.3" fill="#1a1a1a" stroke="#1a1a1a" stroke-width="0.1">3</text>
<path d="M480.31,397.95 L483.85,397.95" fill="none" stroke="#1a1a1a" stroke-width="1.10" stroke-linejoin="round"/>
<text x="503.55" y="399.70" font-size="9.3" fill="#fff" stroke="#fff" stroke-width="3.5" stroke-linejoin="round">3</text>
<path d="M499.08,396.35 L502.62,396.35" fill="none" stroke="#fff" stroke-width="4.60" stroke-linejoin="round" stroke-linecap="round"/>
<text x="503.55" y="399.70" font-size="9.3" fill="#1a1a1a" stroke="#1a1a1a" stroke-width="0.1">3</text>
<path d="M499.08,396.35 L502.62,396.35" fill="none" stroke="#1a1a1a" stroke-width="1.10" stroke-linejoin="round"/>
<text x="522.32" y="401.70" font-size="9.3" fill="#fff" stroke="#fff" stroke-width="3.5" stroke-linejoin="round">3</text>
<path d="M517.85,398.35 L521.39,398.35" fill="none" stroke="#fff" stroke-width="4.60" stroke-linejoin="round" stroke-linecap="round"/>
<text x="522.32" y="401.70" font-size="9.3" fill="#1a1a1a" stroke="#1a1a1a" stroke-width="0.1">3</text>
<path d="M517.85,398.35 L521.39,398.35" fill="none" stroke="#1a1a1a" stroke-width="1.10" stroke-linejoin="round"/>
<text x="541.09" y="405.40" font-size="9.3" fill="#fff" stroke="#fff" stroke-width="3.5" stroke-linejoin="round">5</text>
<path d="M536.62,402.05 L540.16,402.05" fill="none" stroke="#fff" stroke-width="4.60" stroke-linejoin="round" stroke-linecap="round"/>
<text x="541.09" y="405.40" font-size="9.3" fill="#1a1a1a" stroke="#1a1a1a" stroke-width="0.1">5</text>
<path d="M536.62,402.05 L540.16,402.05" fill="none" stroke="#1a1a1a" stroke-width="1.10" stroke-linejoin="round"/>
<text x="559.85" y="401.40" font-size="9.3" fill="#fff" stroke="#fff" stroke-width="3.5" stroke-linejoin="round">3</text>
<path d="M555.39,398.05 L558.92,398.05" fill="none" stroke="#fff" stroke-width="4.60" stroke-linejoin="round" stroke-linecap="round"/>
<text x="559.85" y="401.40" font-size="9.3" fill="#1a1a1a" stroke="#1a1a1a" stroke-width="0.1">3</text>
<path d="M555.39,398.05 L558.92,398.05" fill="none" stroke="#1a1a1a" stroke-width="1.10" stroke-linejoin="round"/>
<text x="547.61 552.41 554.64 559.82" y="352.70" font-size="9.3" fill="#fff" stroke="#fff" stroke-width="3.5" stroke-linejoin="round">2.58</text>
<text x="547.61 552.41 554.64 559.82" y="352.70" font-size="9.3" fill="#1a1a1a" stroke="#1a1a1a" stroke-width="0.1">2.58</text>
<text x="334.88" y="417.80" font-size="9" text-anchor="middle" stroke="#1a1a1a" stroke-width="0.1" stroke-linejoin="round" fill="#1a1a1a">Oct</text>
<text x="353.65" y="417.80" font-size="9" text-anchor="middle" stroke="#1a1a1a" stroke-width="0.1" stroke-linejoin="round" fill="#1a1a1a">Nov</text>
<text x="372.42" y="417.80" font-size="9" text-anchor="middle" stroke="#1a1a1a" stroke-width="0.1" stroke-linejoin="round" fill="#1a1a1a">Dec</text>
<text x="391.19" y="417.80" font-size="9" text-anchor="middle" stroke="#1a1a1a" stroke-width="0.1" stroke-linejoin="round" fill="#1a1a1a">Jan</text>
<text x="409.96" y="417.80" font-size="9" text-anchor="middle" stroke="#1a1a1a" stroke-width="0.1" stroke-linejoin="round" fill="#1a1a1a">Feb</text>
<text x="428.73" y="417.80" font-size="9" text-anchor="middle" stroke="#1a1a1a" stroke-width="0.1" stroke-linejoin="round" fill="#1a1a1a">Mar</text>
<text x="447.50" y="417.80" font-size="9" text-anchor="middle" stroke="#1a1a1a" stroke-width="0.1" stroke-linejoin="round" fill="#1a1a1a">Apr</text>
<text x="466.27" y="417.80" font-size="9" text-anchor="middle" stroke="#1a1a1a" stroke-width="0.1" stroke-linejoin="round" fill="#1a1a1a">May</text>
<text x="485.04" y="417.80" font-size="9" text-anchor="middle" stroke="#1a1a1a" stroke-width="0.1" stroke-linejoin="round" fill="#1a1a1a">Jun</text>
<text x="503.81" y="417.80" font-size="9" text-anchor="middle" stroke="#1a1a1a" stroke-width="0.1" stroke-linejoin="round" fill="#1a1a1a">Jul</text>
<text x="522.58" y="417.80" font-size="9" text-anchor="middle" stroke="#1a1a1a" stroke-width="0.1" stroke-linejoin="round" fill="#1a1a1a">Aug</text>
<text x="541.35" y="417.80" font-size="9" text-anchor="middle" stroke="#1a1a1a" stroke-width="0.1" stroke-linejoin="round" fill="#1a1a1a">Sep</text>
<text x="560.12" y="417.80" font-size="9" text-anchor="middle" stroke="#1a1a1a" stroke-width="0.1" stroke-linejoin="round" fill="#1a1a1a">Oct</text>
<text x="334.88" y="428.30" font-size="9" text-anchor="middle" stroke="#1a1a1a" stroke-width="0.1" stroke-linejoin="round" fill="#1a1a1a">2024</text>
<text x="391.19" y="428.30" font-size="9" text-anchor="middle" stroke="#1a1a1a" stroke-width="0.1" stroke-linejoin="round" fill="#1a1a1a">2025</text>
<text x="34.00" y="434.90" font-size="7.5" textLength="275" lengthAdjust="spacingAndGlyphs" stroke="#1a1a1a" stroke-width="0.1" stroke-linejoin="round" fill="#1a1a1a">Note: LHS (or RHS) refers to the left-hand (or right-hand) side vertical axis.</text>
<text x="34.00" y="443.70" font-size="7.5" textLength="61" lengthAdjust="spacingAndGlyphs" stroke="#1a1a1a" stroke-width="0.1" stroke-linejoin="round" fill="#1a1a1a">Source: Xeneta</text>
</svg>
</body></html>
